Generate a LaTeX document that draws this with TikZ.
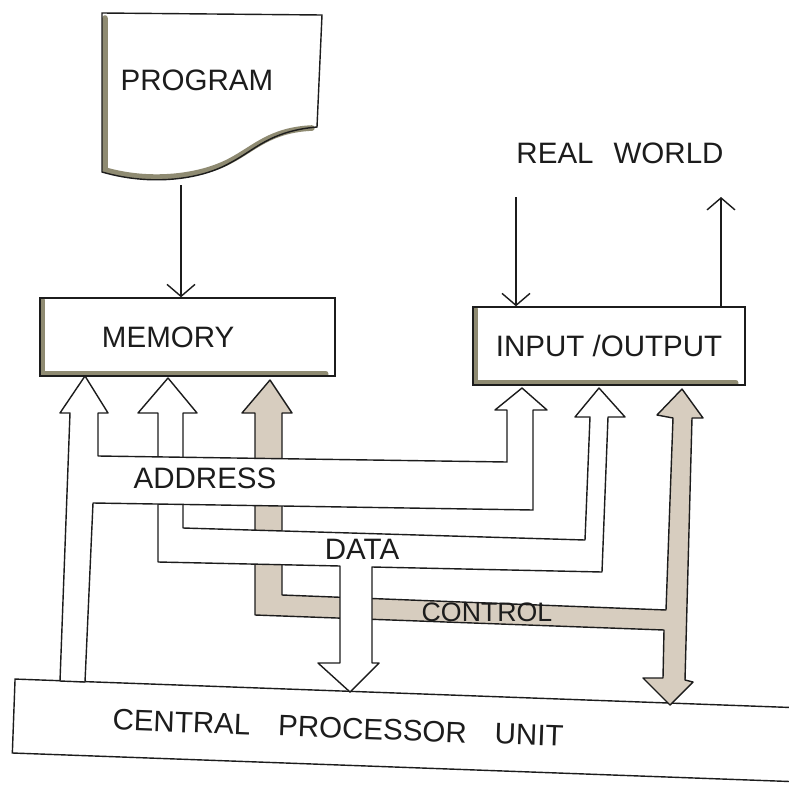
\documentclass[tikz,border=0pt]{standalone}
\usepackage{xcolor}
\definecolor{Pencil}{HTML}{1C1C1C}
\definecolor{Smudge}{HTML}{8F8B72}
\definecolor{Graphite}{HTML}{D7CDBF}
\usepackage{fontspec}
\setmainfont{Liberation Sans}
\usepackage{tikz}
\usetikzlibrary{arrows.meta,positioning,backgrounds}
\newcommand{\handfont}{\fontsize{21}{25}\selectfont}

\begin{document}
\begin{tikzpicture}[
  x=0.25mm,y=-0.25mm,
  every node/.style={font=\handfont,text=Pencil},
  box/.style={draw=Pencil,line width=1pt,minimum height=19.5mm,inner sep=0pt},
  smudge/.style={draw=Smudge,line width=1.4mm,line cap=round,line join=round},
  arrow/.style={-{Straight Barb[length=3mm,width=7mm]},line width=1pt,color=Pencil},
  bus/.style={draw=Pencil,line width=1pt,line join=round,fill=white},
  ctrlbus/.style={bus,fill=Graphite}
]
\useasboundingbox (0,0) rectangle (789,791);
\clip (0,0) rectangle (789,791);

\draw[line width=1pt,draw=Pencil] (102,13) -- (322,15) -- (317,127) .. controls (270,131) and (255,150) .. (230,163) .. controls (200,180) and (150,186) .. (102,172) -- cycle;
\node (program) at (197,80) {PROGRAM};
\node[box,text width=42.75mm,inner xsep=15.5mm,align=left] (memory) at (187.5,337) {MEMORY};
\node[box,minimum width=68mm] (io) at (609,346) {INPUT /OUTPUT};
\node (world) at (620,153) {REAL\hspace{5mm}WORLD};
\node[box,rotate=-2.1,anchor=west,minimum height=18.5mm,text width=150mm,inner xsep=24.75mm,align=left] (cpu) at (13,716) {CENTRAL\hspace{7mm}PROCESSOR\hspace{7mm}UNIT};

\coordinate (progfoot) at (181,185);
\coordinate (inlet) at (516,197);
\coordinate (outlet) at (721,197);
\draw[arrow] (progfoot) -- (progfoot |- memory.north);
\draw[arrow] (inlet) -- (inlet |- io.north);
\draw[arrow] (outlet |- io.north) -- (outlet);

\draw[ctrlbus] (270,380) -- (292,413) -- (282,413) -- (282,595) -- (666,610) -- (673,418) -- (657,415) -- (682,389) -- (703,418) -- (692,418) -- (685,680) -- (693,682) -- (670,705) -- (643,678) -- (663,678) -- (664,630) -- (255,615) -- (255,413) -- (242,413) -- cycle;
\draw[bus] (168,378) -- (197,413) -- (183,413) -- (183,528) -- (585,540) -- (590,417) -- (575,417) -- (599,388) -- (625,417) -- (608,417) -- (602,572) -- (372,567) -- (372,663) -- (379,663) -- (350,692) -- (318,663) -- (340,663) -- (340,566) -- (158,562) -- (158,413) -- (138,413) -- cycle;
\draw[bus] (85,376) -- (108,413) -- (98,413) -- (98,456) -- (507,462) -- (507,410) -- (495,410) -- (522,388) -- (547,410) -- (533,410) -- (533,510) -- (93,503) -- (85,682) -- (60,681) -- (70,413) -- (60,413) -- cycle;

\node (address) at (205,478) {ADDRESS};
\node (data) at (362,549) {DATA};
\node[font=\fontsize{19}{22}\selectfont] (control) at (487,612) {CONTROL};

\begin{scope}[on background layer]
\fill[white] (0,0) rectangle (789,791);
\draw[smudge] (105,18) -- (105,170) .. controls (150,183) and (200,177) .. (230,161) .. controls (255,148) and (270,130) .. (312,128);
\draw[smudge] ([shift={(3,3)}]memory.north west) -- ([shift={(3,-3)}]memory.south west) -- ([shift={(-10,-3)}]memory.south east);
\draw[smudge] ([shift={(3,3)}]io.north west) -- ([shift={(3,-3)}]io.south west) -- ([shift={(-10,-3)}]io.south east);
\end{scope}
\end{tikzpicture}
\end{document}
